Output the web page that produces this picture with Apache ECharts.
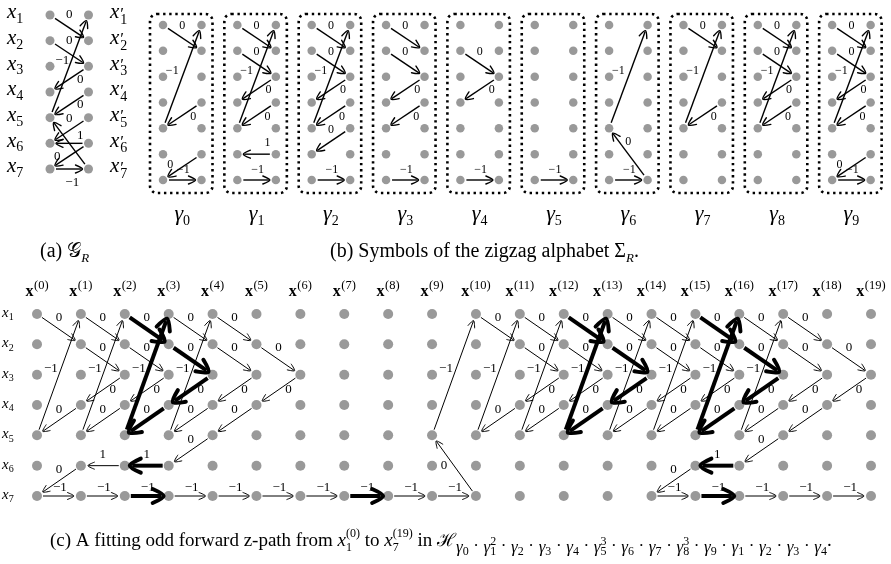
<!DOCTYPE html>
<html><head><meta charset="utf-8">
<script src="https://cdn.jsdelivr.net/npm/echarts@6/dist/echarts.min.js"></script>
<style>html,body{margin:0;padding:0;background:#fff}#c{width:891px;height:564px}</style>
</head><body><div id="c"></div>
<script>
// ---------------- data ----------------
const rowNames = [1,2,3,4,5,6,7];
// edge: [fromSide, fromRow, toSide, toRow, weight]; side 0 = x, side 1 = x'
const graphEdges = [
  [0,1,1,2,0],[0,2,1,3,0],[0,5,1,1,-1],[1,3,0,4,0],[1,4,0,5,0],
  [1,5,0,6,0],[1,6,0,6,1],[1,6,0,7,0],[0,7,1,7,-1],[1,7,0,5,0]
];
const graphUnlabelled = [9];
const symbolNames = [0,1,2,3,4,5,6,7,8,9];
const symbolEdges = [
  [[0,1,1,2,0],[0,5,1,1,-1],[1,4,0,5,0],[1,6,0,7,0],[0,7,1,7,-1]],
  [[0,1,1,2,0],[0,2,1,3,0],[0,5,1,1,-1],[1,3,0,4,0],[1,4,0,5,0],[1,6,0,6,1],[0,7,1,7,-1]],
  [[0,1,1,2,0],[0,2,1,3,0],[0,5,1,1,-1],[1,3,0,4,0],[1,4,0,5,0],[1,5,0,6,0],[0,7,1,7,-1]],
  [[0,1,1,2,0],[0,2,1,3,0],[1,3,0,4,0],[1,4,0,5,0],[0,7,1,7,-1]],
  [[0,2,1,3,0],[1,3,0,4,0],[0,7,1,7,-1]],
  [[0,7,1,7,-1]],
  [[0,5,1,1,-1],[1,7,0,5,0],[0,7,1,7,-1]],
  [[0,1,1,2,0],[0,5,1,1,-1],[1,4,0,5,0]],
  [[0,1,1,2,0],[0,2,1,3,0],[0,5,1,1,-1],[1,3,0,4,0],[1,4,0,5,0]],
  [[0,1,1,2,0],[0,2,1,3,0],[0,5,1,1,-1],[1,3,0,4,0],[1,4,0,5,0],[1,6,0,7,0],[0,7,1,7,-1]]
];
const word = [0,1,1,2,3,4,5,5,5,6,7,8,8,8,9,1,2,3,4];
// bold path edges: [step, fromSide, fromRow, toSide, toRow]
const pathEdges = [
  [2,0,1,1,2],[2,0,5,1,1],[2,1,4,0,5],[2,1,6,0,6],[2,0,7,1,7],
  [3,0,2,1,3],[3,1,3,0,4],
  [7,0,7,1,7],
  [12,0,1,1,2],[12,0,5,1,1],[12,1,4,0,5],
  [13,0,2,1,3],[13,1,3,0,4],
  [15,0,1,1,2],[15,0,5,1,1],[15,1,4,0,5],[15,1,6,0,6],[15,0,7,1,7],
  [16,0,2,1,3],[16,1,3,0,4]
];

// ---------------- styles ----------------
const SERIF = 'Liberation Serif';
const DOT = '#999999';
const labelOffsets = {
  a: {fd:[0,-13], up:[-7,-6], bd3:[11,0], bd4:[11,0], bd5:[0,-12], h6:[11,-8], bd6:[-12,0], h7:[3,14], b75:[0,-12]},
  b: {fd:[0,-12], up:[-10,-6], bd3:[12,0], bd4:[11,1], bd5:[0,-11], h6:[11,-11], bd6:[-12,-2], h7:[1,-10], b75:[0,-12]},
  c: {fd:[0,-12], up:[-8,-6], bd3:[10,0], bd4:[0,-11], bd5:[0,-11], h6:[0,-11], bd6:[0,-11], h7:[1,-8], b75:[-10,0]}
};
const edgeStyles = {
  a: {lw:1.4, blw:1.4, s0:6, s1:6, bs1:6, al:6, aw:4, bal:6, baw:4, fs:13},
  b: {lw:1.4, blw:1.4, s0:6, s1:6, bs1:6, al:6, aw:4, bal:6, baw:4, fs:12},
  c: {lw:1.0, blw:4, s0:6, s1:7, bs1:5, al:5.5, aw:3.5, bal:10, baw:7, fs:13}
};
function edgeType(e) {
  const [fs, fr, ts, tr] = e;
  if (fs === 0 && ts === 1 && tr === fr + 1) return 'fd';
  if (fs === 0 && ts === 1 && tr < fr) return 'up';
  if (fs === 1 && ts === 0 && tr === fr + 1) return 'bd' + fr;
  if (fr === tr) return 'h' + fr;
  return 'b' + fr + tr;
}
function edgeItem(tag, e, base, bold, show) {
  const off = labelOffsets[tag][edgeType(e)] || [0, -11];
  return {value: [base + e[0], e[1], base + e[2], e[3], e[4], bold ? 1 : 0, off[0], off[1], show ? 1 : 0]};
}
function fmtW(w) { return w < 0 ? '\u2212' + Math.abs(w) : String(w); }

function edgeRenderer(tag) {
  const st = edgeStyles[tag];
  return function (params, api) {
    const a = api.coord([api.value(0), api.value(1)]);
    const b = api.coord([api.value(2), api.value(3)]);
    const bold = api.value(5) === 1;
    const dx = b[0] - a[0], dy = b[1] - a[1];
    const L = Math.hypot(dx, dy), ux = dx / L, uy = dy / L;
    const lw = bold ? st.blw : st.lw;
    const s1 = bold ? st.bs1 : st.s1;
    const al = bold ? st.bal : st.al, aw = bold ? st.baw : st.aw;
    const s = [a[0] + ux * st.s0, a[1] + uy * st.s0];
    const t = [b[0] - ux * s1, b[1] - uy * s1];
    const bs = [t[0] - ux * al, t[1] - uy * al];
    const px = -uy, py = ux;
    const ch = [
      {type: 'line', shape: {x1: s[0], y1: s[1], x2: t[0] - ux * lw * 0.6, y2: t[1] - uy * lw * 0.6},
       style: {stroke: '#000', lineWidth: lw, lineCap: 'butt'}},
      {type: 'polyline', shape: {points: [[bs[0] + px * aw - ux, bs[1] + py * aw - uy], t, [bs[0] - px * aw - ux, bs[1] - py * aw - uy]], smooth: 0.3},
       style: {stroke: '#000', fill: null, lineWidth: lw, lineJoin: 'round', lineCap: 'round'}}
    ];
    if (api.value(8) === 1) {
      ch.push({type: 'text', x: (a[0] + b[0]) / 2 + api.value(6), y: (a[1] + b[1]) / 2 + api.value(7),
        style: {text: fmtW(api.value(4)), fill: '#000', fontSize: st.fs, fontFamily: SERIF, align: 'center', verticalAlign: 'middle'}});
    }
    return {type: 'group', children: ch};
  };
}
function boxRenderer(params, api) {
  const p = api.coord([0, 1]), q = api.coord([1, 7]);
  return {type: 'rect', shape: {x: p[0] - 13, y: p[1] - 11, width: q[0] - p[0] + 24, height: q[1] - p[1] + 24, r: 7},
    style: {stroke: '#000', fill: null, lineWidth: 2.6, lineDash: [2.4, 3.7]}};
}

// ---------------- layout ----------------
const grids = [], xAxes = [], yAxes = [], series = [];
function addGrid(box, xmax) {
  const gi = grids.length;
  grids.push(Object.assign({containLabel: false}, box));
  xAxes.push({type: 'value', gridIndex: gi, min: 0, max: xmax, show: false});
  yAxes.push({type: 'value', gridIndex: gi, min: 1, max: 7, inverse: true, show: false});
  return gi;
}
function dotSeries(gi, ncol, size) {
  const data = [];
  for (let c = 0; c < ncol; c++) rowNames.forEach(r => data.push([c, r]));
  series.push({type: 'scatter', xAxisIndex: gi, yAxisIndex: gi, data, symbolSize: size, silent: true,
    itemStyle: {color: DOT, opacity: 1}, z: 3});
}
function edgeSeries(gi, tag, data) {
  series.push({type: 'custom', xAxisIndex: gi, yAxisIndex: gi, data, renderItem: edgeRenderer(tag), silent: true, clip: false, z: 4});
}

// (a)
const gA = addGrid({left: 50, top: 15, width: 38.5, height: 154}, 1);
dotSeries(gA, 2, 9);
edgeSeries(gA, 'a', graphEdges.map((e, i) => edgeItem('a', e, 0, false, graphUnlabelled.indexOf(i) < 0)));
// (b)
const gB = [];
symbolNames.forEach(i => {
  const g = addGrid({left: 163 + 74.35 * i, top: 25, width: 38.5, height: 155}, 1);
  gB.push(g);
  dotSeries(g, 2, 8.5);
  edgeSeries(g, 'b', symbolEdges[i].map(e => edgeItem('b', e, 0, false, true)));
  series.push({type: 'custom', xAxisIndex: g, yAxisIndex: g, data: [[0, 1]], renderItem: boxRenderer, silent: true, clip: false, z: 2});
});
// (c)
const gC = addGrid({left: 37, top: 314, width: 834, height: 182}, word.length);
dotSeries(gC, word.length + 1, 10);
const cData = [];
word.forEach((sym, k) => {
  symbolEdges[sym].forEach(e => {
    const bold = pathEdges.some(p => p[0] === k && p[1] === e[0] && p[2] === e[1] && p[3] === e[2] && p[4] === e[3]);
    cData.push(edgeItem('c', e, k, bold, true));
  });
});
edgeSeries(gC, 'c', cData);

const chart = echarts.init(document.getElementById('c'), null, {renderer: 'canvas', width: 891, height: 564});
chart.setOption({animation: false, backgroundColor: '#fff', grid: grids, xAxis: xAxes, yAxis: yAxes, series});

// ---------------- text ----------------
const mctx = document.createElement('canvas').getContext('2d');
function runFont(r) { return (r.it ? 'italic ' : '') + (r.bold ? 'bold ' : '') + r.size + 'px "' + (r.family || SERIF) + '"'; }
function mathText(runs, x, baseY, align) {
  let cur = 0, lastStart = 0; const placed = [];
  runs.forEach(r => {
    mctx.font = runFont(r);
    const w = mctx.measureText(r.t).width;
    const sx = r.stack ? lastStart : cur + (r.gap || 0);
    if (!r.stack) lastStart = sx;
    placed.push({r, sx});
    cur = Math.max(cur, sx + w + (r.after || 0));
  });
  const ox = align === 'center' ? x - cur / 2 : align === 'right' ? x - cur : x;
  return placed.map(({r, sx}) => ({
    type: 'text', silent: true, x: ox + sx, y: baseY + (r.dy || 0) - 0.34 * r.size,
    style: {text: r.t, fill: '#000', fontSize: r.size, fontFamily: r.family || SERIF,
      fontStyle: r.it ? 'italic' : 'normal', fontWeight: r.bold ? 'bold' : 'normal', align: 'left', verticalAlign: 'middle'}
  }));
}
const px = (gi, v) => chart.convertToPixel({gridIndex: gi}, v);
let texts = [];
rowNames.forEach(i => {
  const p = px(gA, [0, i]);
  texts = texts.concat(mathText([{t: 'x', size: 21, it: true}, {t: String(i), size: 14, dy: 4}], 7, p[1] + 5, 'left'));
  texts = texts.concat(mathText([{t: 'x', size: 21, it: true}, {t: '\u2032', size: 17, dy: 0, gap: 1}, {t: String(i), size: 14, dy: 5, stack: true}], 110, p[1] + 5, 'left'));
  const q = px(gC, [0, i]);
  texts = texts.concat(mathText([{t: 'x', size: 15, it: true}, {t: String(i), size: 10, dy: 3}], 2, q[1] + 4, 'left'));
});
for (let k = 0; k <= word.length; k++) {
  const p = px(gC, [k, 1]);
  texts = texts.concat(mathText([{t: 'x', size: 16, bold: true}, {t: '(' + k + ')', size: 12.5, dy: -7, gap: 0.5}], p[0], 297, 'center'));
}
symbolNames.forEach(i => {
  const p = px(gB[i], [0.5, 7]);
  texts = texts.concat(mathText([{t: '\u03b3', size: 22, it: true}, {t: String(i), size: 14, dy: 4}], p[0], p[1] + 42, 'center'));
});
texts = texts.concat(mathText([{t: '(a) ', size: 20}, {t: '\ud835\udca2', size: 20}, {t: 'R', size: 13, it: true, dy: 4}], 40, 259, 'left'));
texts = texts.concat(mathText([{t: '(b) Symbols of the zigzag alphabet \u03a3', size: 20}, {t: 'R', size: 13, it: true, dy: 4}, {t: '.', size: 20}], 330, 259, 'left'));
// caption (c) with the word as subscript
const capC = [
  {t: '(c) A fitting odd forward z-path from ', size: 19},
  {t: 'x', size: 19, it: true}, {t: '1', size: 12, dy: 5}, {t: '(0)', size: 12, dy: -9, stack: true},
  {t: ' to ', size: 19},
  {t: 'x', size: 19, it: true}, {t: '7', size: 12, dy: 5}, {t: '(19)', size: 12, dy: -9, stack: true},
  {t: ' in ', size: 19},
  {t: '\u210b', size: 18}
];
const groups = [];
word.forEach(s => { const g = groups[groups.length - 1]; if (g && g[0] === s) g[1]++; else groups.push([s, 1]); });
groups.forEach((g, i) => {
  if (i > 0) capC.push({t: '\u00b7', size: 17, dy: 5, gap: 4.6, after: 4.6});
  capC.push({t: '\u03b3', size: 17, it: true, dy: 6});
  capC.push({t: String(g[0]), size: 12, dy: 9});
  if (g[1] > 1) capC.push({t: String(g[1]), size: 12, dy: -1, stack: true});
});
capC.push({t: '.', size: 19});
texts = texts.concat(mathText(capC, 50, 547, 'left'));
chart.setOption({graphic: {elements: texts}});
</script>
</body></html>
